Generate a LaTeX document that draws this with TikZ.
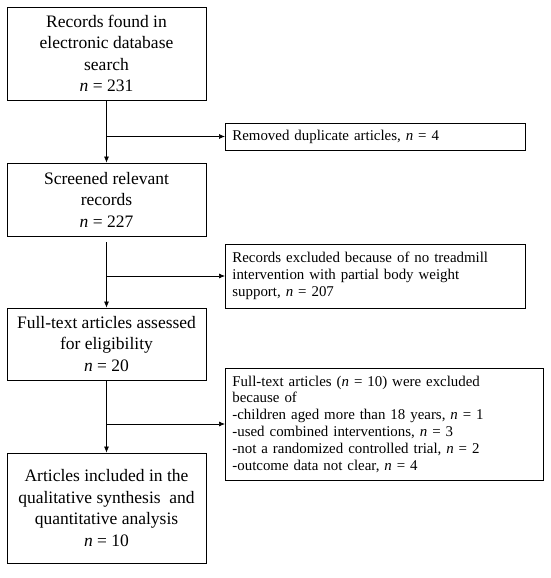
\documentclass[tikz,border=0pt]{standalone}
\usepackage{fontspec}
\setmainfont{Liberation Serif}
\usetikzlibrary{arrows.meta}
\begin{document}
\begin{tikzpicture}[x=1pt,y=-1pt,
  mainbox/.style={draw, line width=0.8pt, inner sep=0pt, minimum width=199pt, align=center, font=\fontsize{17.5}{21.5}\selectfont},
  sidebox/.style={draw, line width=0.8pt, inner sep=0pt, inner xsep=7pt, anchor=west, align=left, text width=286pt, font=\fontsize{14.9}{16.8}\selectfont},
  flow/.style={line width=0.7pt, -{Latex[length=6pt,width=5pt]}}]
\useasboundingbox (0,0) rectangle (550,578);
\node[mainbox, minimum height=93pt] (b1) at (106.5,53.5) {Records found in\\electronic database\\search\\\textit{n} = 231};
\node[mainbox, minimum height=73pt] (b2) at (106.5,199.5) {Screened relevant\\records\\\textit{n} = 227};
\node[mainbox, minimum height=72pt] (b3) at (106.5,344) {Full-text articles assessed\\for eligibility\\\textit{n} = 20};
\node[mainbox, minimum height=110pt] (b4) at (106.5,508) {Articles included in the\\qualitative synthesis\ \ and\\quantitative analysis\\\textit{n} = 10};
\node[sidebox, minimum height=27pt] (r1) at (225,136.5) {Removed duplicate articles, \textit{n} = 4};
\node[sidebox, minimum height=64pt] (r2) at (225,276) {Records excluded because of no treadmill\\intervention with partial body weight\\support, \textit{n} = 207};
\node[sidebox, minimum height=112pt, text width=304pt] (r3) at (225,424) {Full-text articles (\textit{n} = 10) were excluded\\because of\\-children aged more than 18 years, \textit{n} = 1\\-used combined interventions, \textit{n} = 3\\-not a randomized controlled trial, \textit{n} = 2\\-outcome data not clear, \textit{n} = 4};
\draw[flow] (b1.south) -- (b2.north);
\draw[flow, shorten <=6pt] (b2.south) -- (b3.north);
\draw[flow] (b3.south) -- (b4.north);
\draw[flow] (b1.south |- r1.west) -- (r1.west);
\draw[flow] (b2.south |- r2.west) -- (r2.west);
\draw[flow] (b3.south |- r3.west) -- (r3.west);
\end{tikzpicture}
\end{document}
